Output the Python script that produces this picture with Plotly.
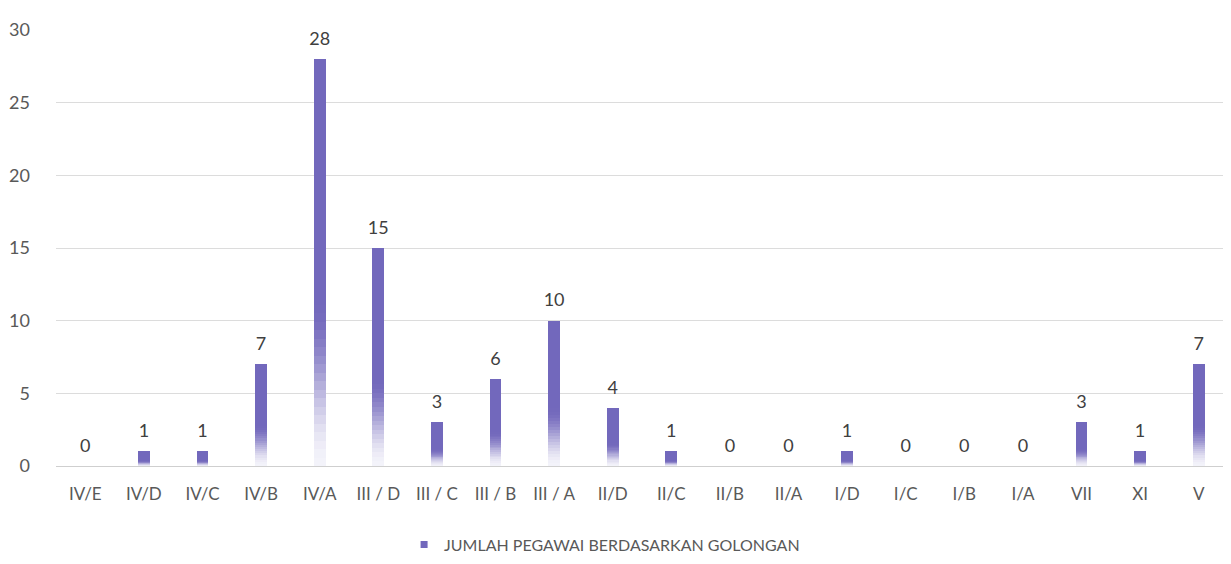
import plotly.graph_objects as go

categories = ["IV/E", "IV/D", "IV/C", "IV/B", "IV/A", "III / D", "III / C", "III / B", "III / A",
              "II/D", "II/C", "II/B", "II/A", "I/D", "I/C", "I/B", "I/A", "VII", "XI", "V"]
values = [0, 1, 1, 7, 28, 15, 3, 6, 10, 4, 1, 0, 0, 1, 0, 0, 0, 3, 1, 7]
series_name = "JUMLAH PEGAWAI BERDASARKAN GOLONGAN"

purple = (114, 104, 188)
white = (255, 255, 255)
K = 48  # gradient segments per bar

FONT = "Lato, Open Sans, sans-serif"


def seg_color(f):
    # f: 0 at bar bottom, 1 at bar top
    t = min(1.0, f / 0.4)
    t = t * t * (3 - 2 * t)
    a = 0.08 + 0.92 * t
    c = [round(white[i] + (purple[i] - white[i]) * a) for i in range(3)]
    return f"rgb({c[0]},{c[1]},{c[2]})"


fig = go.Figure()
for k in range(K):
    f = (k + 0.5) / K
    fig.add_trace(go.Bar(
        x=categories,
        y=[v / K for v in values],
        marker=dict(color=seg_color(f), line=dict(width=0)),
        width=0.2,
        showlegend=False,
        hoverinfo="skip",
    ))

fig.add_trace(go.Scatter(
    x=categories, y=values, mode="markers+text",
    marker=dict(size=14, opacity=0),
    text=[str(v) for v in values], textposition="top center",
    textfont=dict(family=FONT, size=18, color="#404040"),
    showlegend=False, hoverinfo="skip", cliponaxis=False,
))

fig.add_trace(go.Scatter(
    x=[None], y=[None], mode="markers", name=series_name,
    marker=dict(symbol="square", size=7, color=f"rgb{purple}"),
))

fig.update_layout(
    width=1231, height=564,
    margin=dict(l=48, r=11, t=22, b=96),
    paper_bgcolor="white", plot_bgcolor="white",
    barmode="stack", bargap=0.8,
    font=dict(family=FONT, color="#595959", size=17),
    showlegend=True,
    legend=dict(orientation="h", x=0.297, xanchor="left", y=-0.18, yanchor="middle",
                font=dict(family=FONT, size=16, color="#595959")),
)
fig.update_yaxes(range=[0, 30], dtick=5, showgrid=True, gridcolor="#dcdcdc", gridwidth=1,
                 zeroline=True, zerolinecolor="#cfcfcf", zerolinewidth=1,
                 showline=False, ticklabelstandoff=25, automargin=False,
                 tickfont=dict(size=18, color="#595959"))
fig.update_xaxes(range=[-0.5, len(categories) - 0.5], showgrid=False, showline=False,
                 ticklabelstandoff=16, automargin=False,
                 tickfont=dict(size=17, color="#595959"))

fig.write_html("out.html")
